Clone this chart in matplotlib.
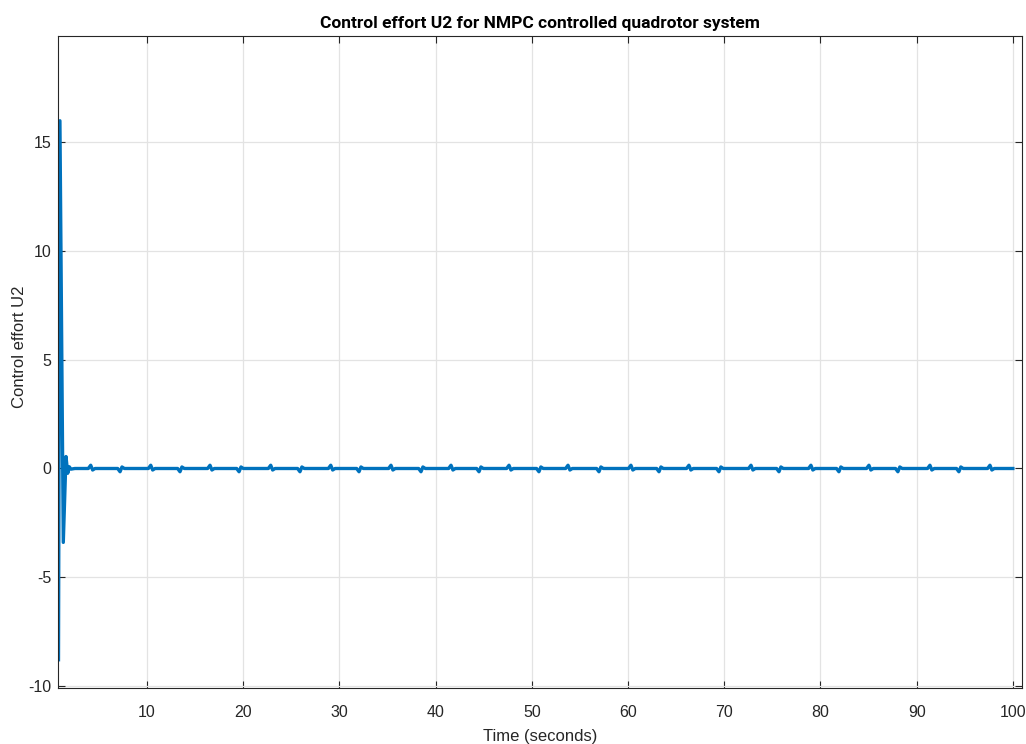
import numpy as np
import matplotlib
matplotlib.use("Agg")
import matplotlib.pyplot as plt

# Initial transient (time, value)
t_init = [0.80, 0.95, 1.30, 1.58, 1.76, 1.92, 2.10, 2.50]
u_init = [-8.8, 16.0, -3.4, 0.55, -0.22, 0.08, -0.03, 0.0]

# Periodic small bumps: centre times and signs (+1 up-first, -1 down-first)
bump_t = [4.25, 7.30, 10.49, 13.53, 16.65, 19.67, 22.96, 26.00, 29.20, 32.14,
          35.46, 38.58, 41.70, 44.61, 47.73, 50.84, 53.86, 57.08, 60.40, 63.32,
          66.43, 69.55, 72.88, 75.79, 79.11, 82.02, 85.14, 88.15, 91.48, 94.49,
          97.72]
bump_sign = [1, -1, 1, -1, 1, -1, 1, -1, 1, -1,
             1, -1, 1, -1, 1, -1, 1, -1, 1, -1,
             1, -1, 1, -1, 1, -1, 1, -1, 1, -1,
             1]
bump_peak = 0.15
bump_back = 0.07
t_end = 100.0

xticks = [10, 20, 30, 40, 50, 60, 70, 80, 90, 100]
yticks = [-10, -5, 0, 5, 10, 15]

# Build polyline
t = list(t_init)
u = list(u_init)
for c, s in zip(bump_t, bump_sign):
    t += [c - 0.35, c - 0.1, c + 0.1, c + 0.35]
    u += [0.0, s * bump_peak, -s * bump_back, 0.0]
t.append(t_end)
u.append(0.0)

fig = plt.figure(figsize=(10.26, 7.44), dpi=100)
ax = fig.add_axes([58/1026, 1 - 688/744, (1022-58)/1026, (688-36)/744])

ax.plot(t, u, color="#0072BD", linewidth=2.4, solid_joinstyle="round")

ax.set_xlim(0.75, 100.95)
ax.set_ylim(-10.1, 19.9)
ax.set_xticks(xticks)
ax.set_yticks(yticks)
ax.set_yticklabels([str(v) for v in yticks])
ax.grid(True, color="#e3e3e3", linewidth=0.9)
ax.set_axisbelow(True)
ax.tick_params(direction="in", length=5, width=0.8, colors="#262626",
               labelsize=11.5, top=True, right=True)
ax.tick_params(axis="x", pad=12)
ax.tick_params(axis="y", pad=5)
for lab in ax.get_xticklabels() + ax.get_yticklabels():
    lab.set_family("Liberation Sans")
for sp in ax.spines.values():
    sp.set_color("#262626")
    sp.set_linewidth(0.8)

ax.set_title("Control effort U2 for NMPC controlled quadrotor system",
             fontsize=12.5, fontweight="bold", family="Roboto", pad=6)
ax.set_xlabel("Time (seconds)", fontsize=12, family="Liberation Sans",
              color="#262626", va="center")
ax.xaxis.set_label_coords(0.5, -0.075)
ax.set_ylabel("Control effort U2", fontsize=12, family="Liberation Sans",
              color="#262626", va="center")
ax.yaxis.set_label_coords(-0.040, 0.523)

fig.savefig("out.png", dpi=100)
